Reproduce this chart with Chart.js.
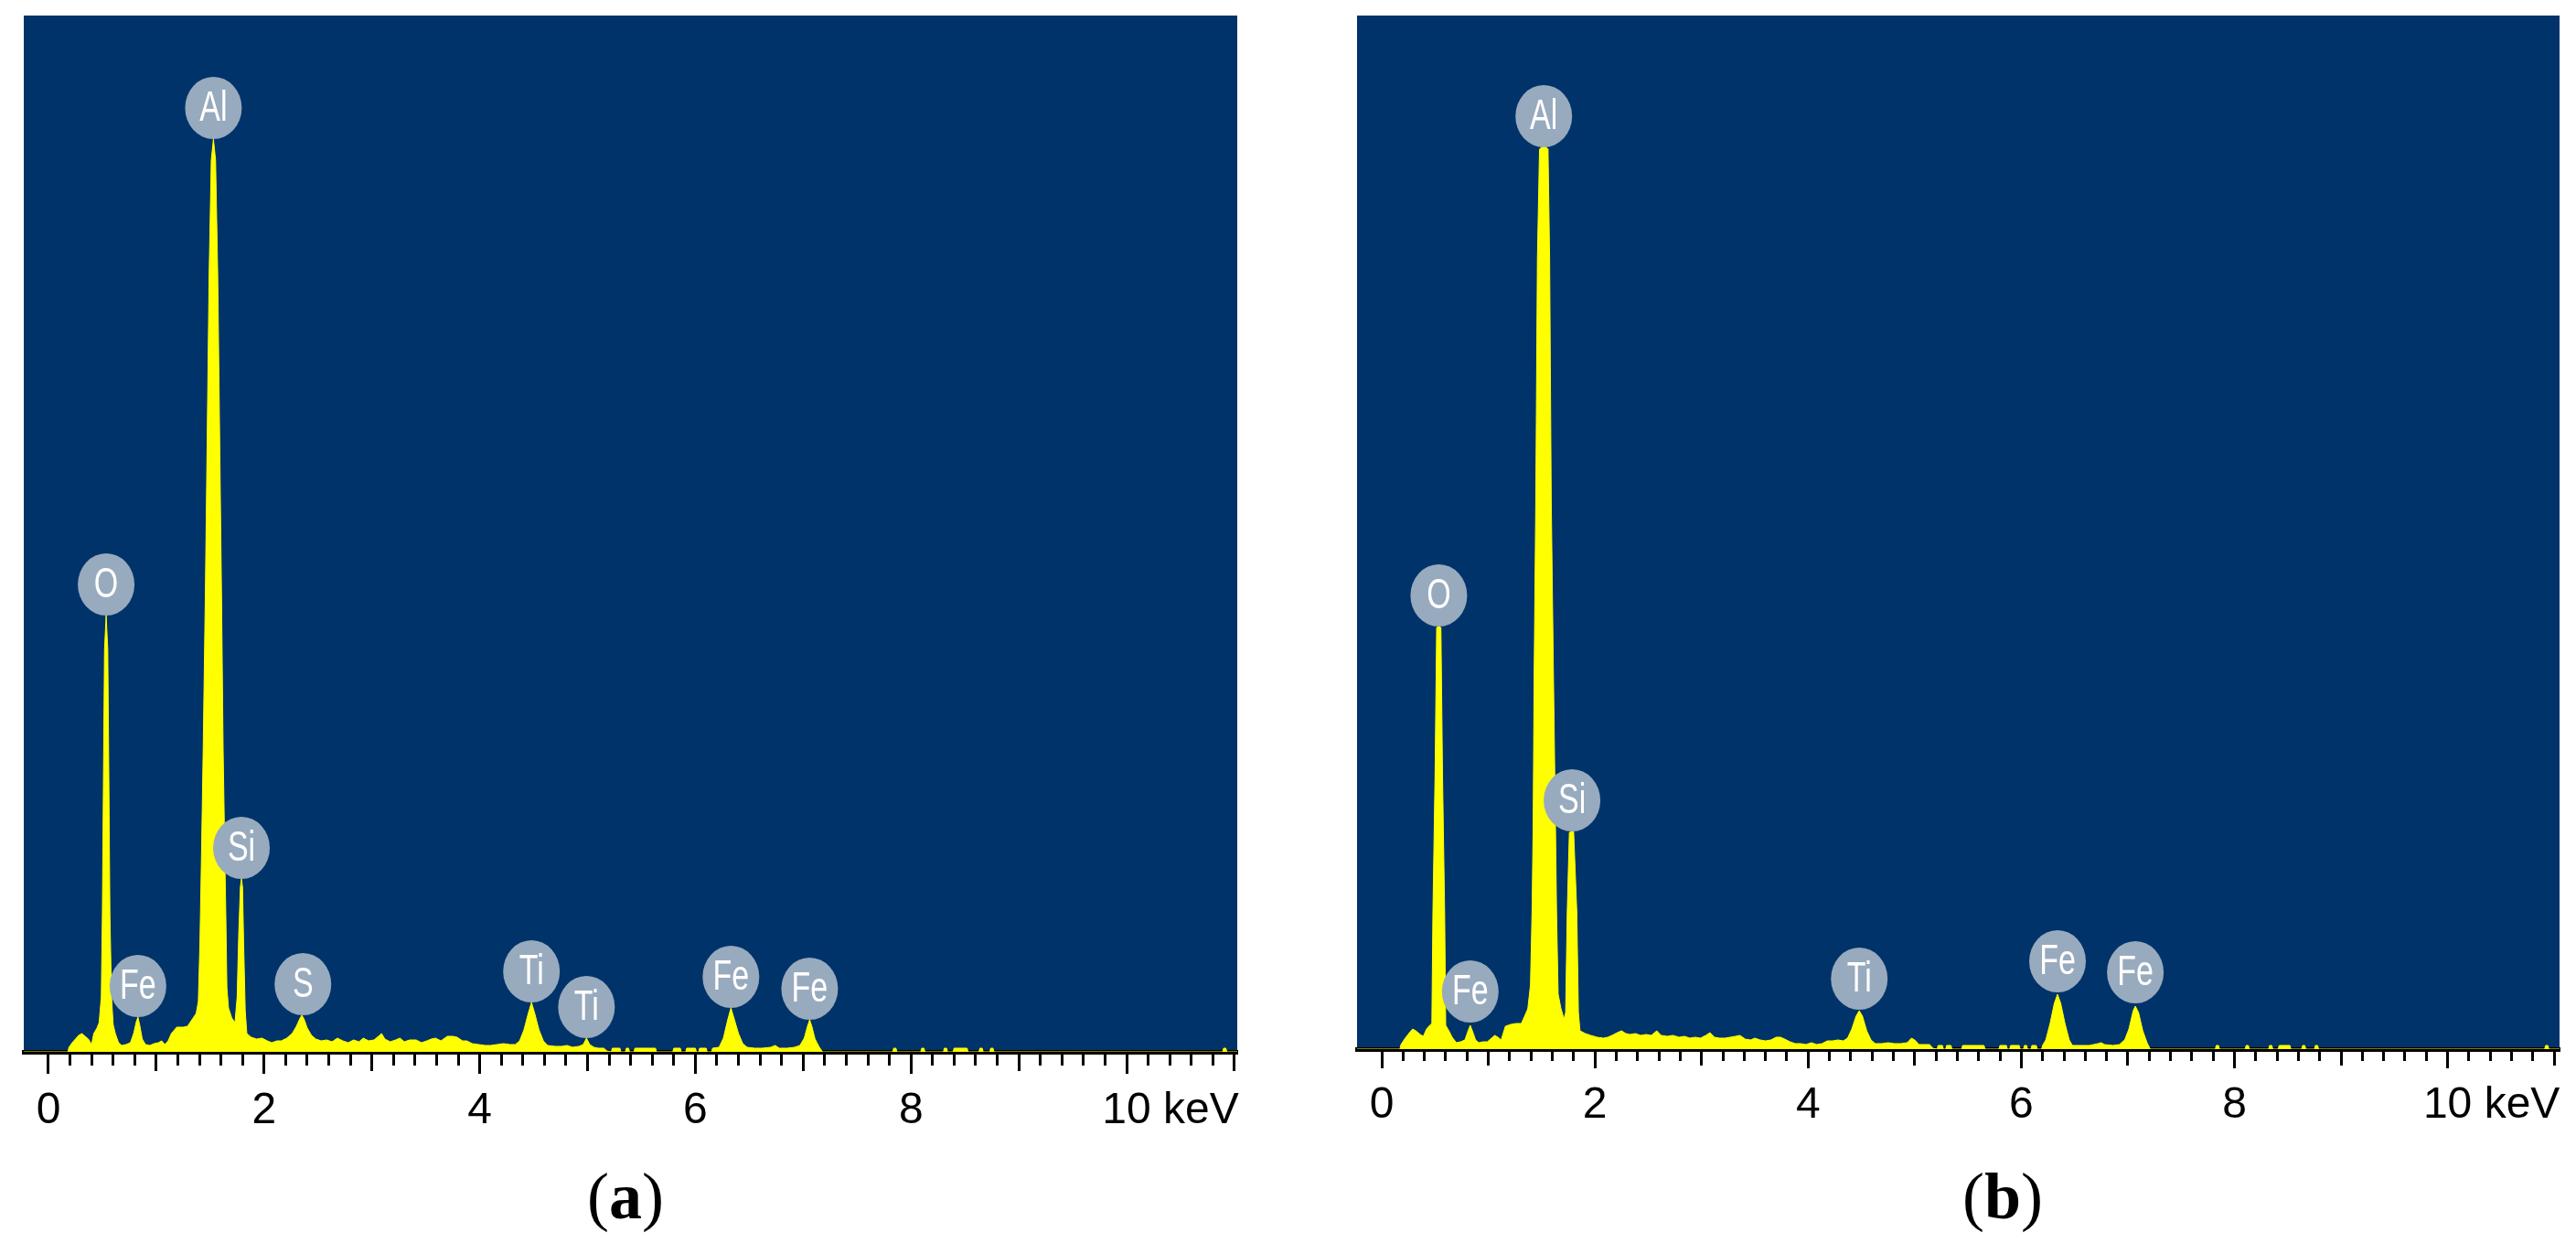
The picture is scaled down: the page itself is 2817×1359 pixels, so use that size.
<!DOCTYPE html>
<html><head><meta charset="utf-8">
<script src="https://cdn.jsdelivr.net/npm/chart.js@4.4.1/dist/chart.umd.min.js"></script>
<style>
html,body{margin:0;padding:0;background:#fff;}
body{width:2817px;height:1359px;position:relative;overflow:hidden;}
canvas{position:absolute;top:0;}
.cap{position:absolute;top:1272px;font-family:'Liberation Serif','Times New Roman',serif;font-size:72px;line-height:72px;color:#000;transform:translateX(-50%);white-space:nowrap;}
.cap b{font-weight:bold;}
</style></head><body>
<canvas id="ca" width="1408" height="1359" style="left:0;width:1408px;height:1359px"></canvas>
<canvas id="cb" width="1409" height="1359" style="left:1408px;width:1409px;height:1359px"></canvas>
<div class="cap" style="left:684px">(<b>a</b>)</div>
<div class="cap" style="left:2190px">(<b>b</b>)</div>
<script>
// ---- data: EDS spectra, [energy keV, counts] ----
const spectrumA = [
[-0.23,0],[0.18,0],[0.19,5],[0.22,10],[0.25,14],[0.28,18],[0.31,20],[0.34,17],[0.37,14],[0.40,8],
[0.42,20],[0.45,26],[0.47,32],[0.49,60],[0.50,150],[0.51,300],[0.52,440],[0.535,477],[0.55,440],[0.56,300],
[0.57,150],[0.585,60],[0.60,30],[0.62,20],[0.65,10],[0.68,7],[0.72,8],[0.76,10],[0.79,20],[0.815,33],
[0.83,38],[0.845,30],[0.87,14],[0.90,8],[0.94,7],[0.98,9],[1.02,10],[1.05,12],[1.08,8],[1.11,12],
[1.14,20],[1.19,27],[1.25,27],[1.29,28],[1.33,35],[1.37,42],[1.39,55],[1.405,120],[1.42,220],[1.435,330],
[1.455,500],[1.47,650],[1.49,850],[1.51,975],[1.53,998],[1.55,975],[1.57,850],[1.59,650],[1.605,500],[1.62,330],
[1.635,220],[1.645,150],[1.655,70],[1.67,48],[1.70,37],[1.73,32],[1.75,60],[1.765,130],[1.78,180],[1.79,189],
[1.80,180],[1.81,120],[1.825,45],[1.84,20],[1.88,16],[1.93,14],[1.98,15],[2.03,12],[2.07,10],[2.12,12],
[2.16,12],[2.21,15],[2.26,20],[2.30,28],[2.33,36],[2.35,40],[2.37,36],[2.40,26],[2.44,18],[2.48,14],
[2.53,12],[2.58,13],[2.63,11],[2.68,15],[2.73,12],[2.78,10],[2.83,13],[2.88,11],[2.92,15],[2.97,12],
[3.02,13],[3.06,17],[3.09,20],[3.12,14],[3.17,11],[3.22,13],[3.26,15],[3.30,11],[3.35,13],[3.41,13],
[3.46,10],[3.51,12],[3.55,14],[3.59,15],[3.64,12],[3.70,17],[3.75,17],[3.79,16],[3.84,12],[3.88,12],
[3.93,9],[3.99,8],[4.05,7],[4.10,7],[4.16,8],[4.22,9],[4.28,8],[4.33,8],[4.37,12],[4.41,24],
[4.45,42],[4.48,54],[4.51,42],[4.55,24],[4.59,12],[4.63,7],[4.70,6],[4.76,6],[4.81,7],[4.86,5],
[4.92,6],[4.96,8],[4.99,15],[5.02,8],[5.06,5],[5.10,4],[5.15,4],[5.18,1],[5.22,0],[5.23,4],
[5.30,4],[5.31,0],[5.35,0],[5.36,4],[5.38,4],[5.39,0],[5.43,0],[5.44,4],[5.63,4],[5.64,0],
[5.79,0],[5.80,4],[5.86,4],[5.87,0],[5.91,0],[5.92,4],[6.00,4],[6.01,0],[6.03,0],[6.04,4],
[6.10,4],[6.11,0],[6.15,0],[6.16,4],[6.22,5],[6.26,15],[6.30,35],[6.33,48],[6.36,36],[6.40,20],
[6.44,9],[6.48,5],[6.55,4],[6.62,4],[6.70,5],[6.74,7],[6.78,4],[6.85,4],[6.92,5],[6.97,7],
[7.01,15],[7.04,28],[7.06,35],[7.08,28],[7.11,14],[7.15,5],[7.18,0],[7.83,0],[7.84,4],[7.86,4],
[7.87,0],[8.09,0],[8.10,4],[8.12,4],[8.13,0],[8.30,0],[8.31,4],[8.33,4],[8.34,0],[8.39,0],
[8.40,4],[8.52,4],[8.53,0],[8.63,0],[8.64,4],[8.66,4],[8.67,0],[8.73,0],[8.74,4],[8.76,4],
[8.77,0],[10.89,0],[10.90,4],[10.92,4],[10.93,0],[11.03,0]
];
const spectrumB = [
[-0.24,0],[0.17,0],[0.18,5],[0.22,12],[0.26,18],[0.29,22],[0.32,20],[0.36,16],[0.39,14],[0.42,22],
[0.45,26],[0.47,28],[0.48,150],[0.50,300],[0.515,461],[0.535,462],[0.555,461],[0.57,300],[0.59,150],[0.60,26],
[0.63,20],[0.66,13],[0.70,7],[0.74,8],[0.78,10],[0.81,20],[0.83,26],[0.85,20],[0.88,10],[0.91,7],
[0.95,8],[0.99,8],[1.03,12],[1.06,15],[1.09,13],[1.12,10],[1.16,25],[1.21,27],[1.26,28],[1.31,28],
[1.34,36],[1.37,44],[1.395,70],[1.41,150],[1.42,242],[1.43,415],[1.445,600],[1.46,863],[1.48,984],[1.52,988],
[1.56,984],[1.575,863],[1.59,600],[1.61,415],[1.63,242],[1.64,150],[1.655,60],[1.68,45],[1.71,33],[1.725,40],
[1.74,150],[1.76,237],[1.80,238],[1.83,150],[1.845,40],[1.86,20],[1.91,17],[1.96,15],[2.02,13],[2.08,12],
[2.12,13],[2.16,15],[2.21,18],[2.25,20],[2.29,17],[2.33,16],[2.38,17],[2.43,15],[2.48,16],[2.53,15],
[2.58,20],[2.62,15],[2.68,14],[2.73,15],[2.79,13],[2.84,14],[2.89,12],[2.94,13],[2.99,12],[3.04,15],
[3.08,18],[3.12,13],[3.17,12],[3.22,12],[3.27,13],[3.32,14],[3.36,15],[3.41,11],[3.46,10],[3.50,12],
[3.55,10],[3.60,9],[3.65,10],[3.70,13],[3.74,13],[3.78,11],[3.83,8],[3.88,6],[3.93,6],[3.98,5],
[4.03,7],[4.08,5],[4.13,6],[4.18,9],[4.23,9],[4.28,10],[4.33,9],[4.37,12],[4.41,22],[4.45,36],
[4.48,42],[4.51,36],[4.55,20],[4.59,10],[4.63,6],[4.69,6],[4.75,7],[4.81,6],[4.87,6],[4.93,7],
[4.97,12],[5.00,10],[5.04,5],[5.10,5],[5.14,5],[5.17,1],[5.21,0],[5.22,4],[5.26,4],[5.27,0],
[5.29,0],[5.30,4],[5.34,4],[5.35,0],[5.44,0],[5.45,4],[5.65,4],[5.66,0],[5.79,0],[5.80,4],
[5.86,4],[5.87,0],[5.89,0],[5.90,4],[5.98,4],[5.99,0],[6.02,0],[6.03,4],[6.05,4],[6.06,0],
[6.09,0],[6.10,4],[6.14,4],[6.15,0],[6.19,0],[6.20,4],[6.23,10],[6.27,28],[6.31,50],[6.34,60],
[6.37,50],[6.41,28],[6.45,10],[6.48,4],[6.56,4],[6.64,4],[6.72,6],[6.75,7],[6.78,5],[6.86,4],
[6.92,5],[6.97,10],[7.01,22],[7.05,42],[7.07,47],[7.10,40],[7.14,20],[7.18,7],[7.21,0],[7.82,0],
[7.83,4],[7.85,4],[7.86,0],[8.10,0],[8.11,4],[8.13,4],[8.14,0],[8.32,0],[8.33,4],[8.35,4],
[8.36,0],[8.41,0],[8.42,4],[8.52,4],[8.53,0],[8.63,0],[8.64,4],[8.66,4],[8.67,0],[8.75,0],
[8.76,4],[8.78,4],[8.79,0],[10.91,0],[10.92,4],[10.94,4],[10.95,0],[11.05,0]
];
// peak labels
const peakNamesA  = ['O','Fe','Al','Si','S','Ti','Ti','Fe','Fe'];
const peakEnergyA = [0.535,0.83,1.53,1.79,2.36,4.48,4.99,6.33,7.06];
const peakTopA    = [477,38,998,189,40,54,15,48,35];
const peakNamesB  = ['O','Fe','Al','Si','Ti','Fe','Fe'];
const peakEnergyB = [0.535,0.83,1.52,1.785,4.48,6.34,7.07];
const peakTopB    = [462,29,986,238,43,62,50];
// axis ticks
const tickValues = [0,2,4,6,8,10];
const tickLabels = ['0','2','4','6','8','10'];
const unitLabel = ' keV';

const TICK_FONT = "'Liberation Sans', Arial, sans-serif";

function makeChart(id, spectrum, names, energies, tops, L) {
  const bgPlugin = {
    id: 'bg'+id,
    beforeDraw(chart) {
      const a = chart.chartArea, ctx = chart.ctx;
      ctx.save(); ctx.fillStyle = '#003369';
      ctx.fillRect(a.left, a.top, a.right - a.left, a.bottom - a.top);
      ctx.restore();
    }
  };
  const labelPlugin = {
    id: 'pk'+id,
    afterDatasetsDraw(chart) {
      const ctx = chart.ctx, xs = chart.scales.x, ys = chart.scales.y;
      ctx.save();
      for (let i = 0; i < names.length; i++) {
        const px = xs.getPixelForValue(energies[i]);
        const py = ys.getPixelForValue(tops[i]);
        const cy = py - 34;
        ctx.fillStyle = '#98AABE';
        ctx.beginPath(); ctx.ellipse(px, cy, 31, 34, 0, 0, Math.PI*2); ctx.fill();
        ctx.save();
        ctx.translate(px, cy); ctx.scale(1, 1.35);
        ctx.fillStyle = '#ffffff';
        ctx.font = "34px 'Liberation Sans', Arial, sans-serif";
        ctx.textAlign = 'center'; ctx.textBaseline = 'middle';
        ctx.fillText(names[i], 0, 1);
        ctx.restore();
      }
      ctx.restore();
    }
  };
  const unitPlugin = {
    id: 'unit'+id,
    afterDraw(chart) {
      const s = chart.scales.x, ctx = chart.ctx;
      const items = s._labelItems || [];
      const last = tickLabels[tickLabels.length-1];
      const it = items.find(o => o.label === last);
      ctx.save();
      ctx.font = "48px " + TICK_FONT;
      const w = ctx.measureText(last).width;
      const x = s.getPixelForValue(tickValues[tickValues.length-1]) + w/2;
      const y = it ? it.options.translation[1] + it.textOffset : s.top + L.tl + 12 + 28.8;
      ctx.fillStyle = '#000'; ctx.textAlign = 'left'; ctx.textBaseline = 'middle';
      ctx.fillText(unitLabel, x, y);
      ctx.restore();
    }
  };
  return new Chart(document.getElementById(id), {
    type: 'line',
    data: { datasets: [{
      data: spectrum.map(p => ({x: p[0], y: p[1]})),
      borderColor: '#ffff00', borderWidth: 1, backgroundColor: '#ffff00',
      fill: 'origin', pointRadius: 0, tension: 0
    }]},
    options: {
      responsive: false, animation: false, devicePixelRatio: 1,
      layout: { padding: { left: L.left, right: L.right, top: 17, bottom: 0 } },
      plugins: { legend: {display: false}, tooltip: {enabled: false}, title: {display: false} },
      scales: {
        x: {
          type: 'linear', min: L.xMin, max: L.xMax, z: 1,
          afterFit: s => { s.height = 1359 - L.B; },
          border: { display: true, color: '#000', width: 5 },
          grid: {
            display: true, drawOnChartArea: false, drawTicks: true,
            tickLength: L.tl, tickWidth: 3,
            tickColor: c => (c.tick && c.tick.value < -0.01) ? 'rgba(0,0,0,0)' : '#000',
            tickBorderDash: c => {
              const v = c.tick ? Math.round(c.tick.value * 5) / 5 : 0;
              if (Math.abs(v - Math.round(v)) > 1e-6) return [L.dMinor, 300];
              if (Math.round(v) % 2 !== 0) return [L.dMed, 300];
              return [L.tl + 10, 300];
            }
          },
          ticks: {
            stepSize: 0.2, autoSkip: false, maxRotation: 0, minRotation: 0,
            includeBounds: false, padding: 12, color: '#000',
            font: { family: TICK_FONT, size: 48 },
            callback: v => { const i = tickValues.indexOf(Math.round(v*10)/10); return i >= 0 ? tickLabels[i] : ''; }
          }
        },
        y: { type: 'linear', display: false, min: 0, max: L.B - 17 }
      }
    },
    plugins: [bgPlugin, labelPlugin, unitPlugin]
  });
}

makeChart('ca', spectrumA, peakNamesA, peakEnergyA, peakTopA,
  { left: 26, right: 55, B: 1150, xMin: -0.229, xMax: 11.026, tl: 24, dMinor: 12, dMed: 18 });
makeChart('cb', spectrumB, peakNamesB, peakEnergyB, peakTopB,
  { left: 76, right: 18, B: 1147, xMin: -0.232, xMax: 11.05, tl: 21, dMinor: 10, dMed: 15 });
</script>
</body></html>
